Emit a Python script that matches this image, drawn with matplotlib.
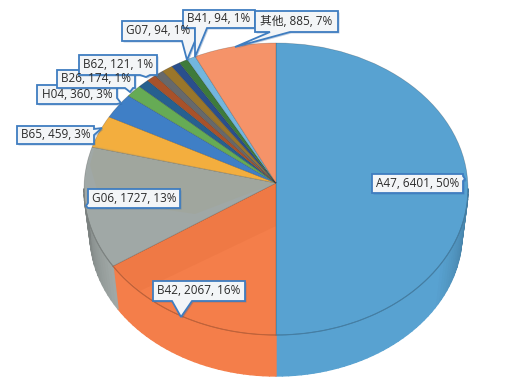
import numpy as np
import matplotlib
matplotlib.use("Agg")
import matplotlib.pyplot as plt
from matplotlib.collections import PolyCollection
from matplotlib.colors import to_rgb
from matplotlib.patches import Polygon
from matplotlib.path import Path

plt.rcParams["font.family"] = ["Open Sans", "Noto Sans CJK SC", "DejaVu Sans"]

names = ["A47", "B42", "G06", "B65", "H04", "B26", "", "", "", "B62", "", "G07", "B41", "其他"]
values = [6401, 2067, 1727, 459, 360, 174, 120, 105, 100, 121, 95, 94, 94, 885]
percents = [50, 16, 13, 3, 3, 1, 1, 1, 1, 1, 1, 1, 1, 7]
colors = ["#58A2D1", "#F47E4A", "#A0A8A6", "#F3AE3E", "#3F7FC6", "#66AB55",
          "#27608F", "#A8522A", "#67696B", "#9A762B", "#2A4F8C", "#3E7B3B",
          "#72B6DE", "#F59369"]

# label box: left, top, right, bottom, pointer base 1, pointer tip, pointer base 2
boxes = {
    "A47": (372, 174, 463, 193, (463, 176), (465, 179), (463, 181)),
    "B42": (153, 281, 245, 301, (192, 301), (181, 317), (172, 301)),
    "G06": (88, 189, 180, 208, (88, 203), (86, 206), (88, 208)),
    "B65": (17, 126, 94, 144, (94, 129), (102, 128), (94, 135)),
    "H04": (37, 85, 117, 104, (117, 98), (121, 103), (117, 104)),
    "B26": (57, 70, 135, 88, (133, 88), (130, 92), (125, 88)),
    "B62": (79, 55, 157, 75, (150, 75), (146, 77), (140, 75)),
    "G07": (122, 21, 195, 41, (195, 41), (187, 60), (182, 41)),
    "B41": (183, 10, 255, 28, (207, 28), (195, 57), (195, 28)),
    "其他": (255, 11, 338, 32, (290, 32), (235, 47), (270, 32)),
}

W, H = 525, 380
CX, CY, RX, RY = 276, 189, 192, 146
APEX_LIFT = 6
BASE_RX, BASE_RY, BASE_CY = 186, 142, 234


def shade(color, k):
    return tuple(c * k for c in to_rgb(color))


fig = plt.figure(figsize=(W / 100, H / 100), dpi=100)
ax = fig.add_axes([0, 0, 1, 1])
wedges, _ = ax.pie(values, colors=colors, startangle=90, counterclock=False,
                   wedgeprops={"linewidth": 0.5, "edgecolor": "#00000038"})
ax.set_xlim(-CX / RX, (W - CX) / RX)
ax.set_ylim((CY - H) / RY, CY / RY)
ax.set_aspect("auto")

# the view is in perspective, so the wedge tips sit a bit above the rim centre
for w in wedges:
    p = w.get_path()
    v = p.vertices.copy()
    v[np.all(np.isclose(v, 0), axis=1)] = (0, APEX_LIFT / RY)
    w._path = Path(v, p.codes)

# side wall, built from the same shares as the pie
fractions = np.array(values) / sum(values)
edges = np.concatenate([[0], np.cumsum(fractions)]) * 2 * np.pi
quads, quad_colors = [], []
for start, stop, color in zip(edges[:-1], edges[1:], colors):
    lo, hi = max(start, np.pi / 2), min(stop, 3 * np.pi / 2)
    if hi <= lo:
        continue
    steps = np.linspace(lo, hi, max(2, int((hi - lo) * 30)))
    rim = np.column_stack([np.sin(steps), np.cos(steps)])
    ax.plot(rim[:, 0], rim[:, 1], color=shade(color, 0.78), lw=0.8, zorder=3)
    for a, b in zip(steps[:-1], steps[1:]):
        top_a, top_b = (np.sin(a), np.cos(a)), (np.sin(b), np.cos(b))
        bot = [(np.sin(t) * BASE_RX / RX, (CY - BASE_CY + np.cos(t) * BASE_RY) / RY) for t in (a, b)]
        quads.append([top_a, top_b, bot[1], bot[0]])
        edge_dist = min(a - np.pi / 2, 3 * np.pi / 2 - a)
        quad_colors.append(shade(color, 0.76 + 0.24 * min(edge_dist / 0.55, 1)))
wall = PolyCollection(quads, facecolors=quad_colors, edgecolors=quad_colors, linewidths=1.0, zorder=0)
ax.add_collection(wall)

# overlay in pixel coordinates for reflections and labels
over = fig.add_axes([0, 0, 1, 1], facecolor="none")
over.set_xlim(0, W)
over.set_ylim(H, 0)
over.axis("off")

over.add_patch(Polygon([(113, 266), (140, 291), (276, 226), (276, 183)], closed=True, fc="#A03000", ec="none", alpha=0.06))
over.add_patch(Polygon([(276, 183), (95, 146), (90, 165), (100, 200), (195, 214)], closed=True, fc="#A39F7E", ec="none", alpha=0.2))

for name, value, pct in zip(names, values, percents):
    if not name:
        continue
    left, top, right, bottom, p1, tip, p2 = boxes[name]
    # slot the pointer into whichever side it leaves from
    if p1[1] == bottom and p2[1] == bottom:
        outline = [(left, top), (right, top), (right, bottom), p1, tip, p2, (left, bottom)]
    elif p1[0] == right:
        outline = [(left, top), (right, top), p1, tip, p2, (right, bottom), (left, bottom)]
    else:
        outline = [(left, top), (right, top), (right, bottom), (left, bottom), p2, tip, p1]
    shadow = [(x + 1.5, y + 1.5) for x, y in outline]
    over.add_patch(Polygon(shadow, closed=True, fc="#2A5F9E", ec="none", alpha=0.3))
    over.add_patch(Polygon(outline, closed=True, fc="#F3F5F7", ec="#3F7DC0", lw=1.3))
    over.text((left + right) / 2, (top + bottom) / 2, f"{name}, {value}, {pct}%",
              ha="center", va="center", fontsize=8.5, color="#2B2B2B")

fig.savefig("out.png", dpi=100)
